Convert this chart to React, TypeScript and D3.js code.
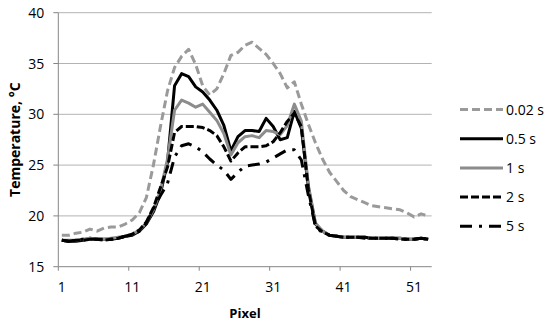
import * as d3 from "d3";

const pixels = d3.range(1, 54);

const s002 = [18.1, 18.1, 18.3, 18.4, 18.7, 18.5, 18.8, 18.9, 18.9, 19.2, 19.6, 20.3, 21.8, 25.0, 28.8, 32.3, 34.6, 35.7, 36.4, 34.9, 32.8, 31.9, 32.5, 34.0, 35.8, 36.1, 36.8, 37.1, 36.5, 35.9, 35.0, 34.0, 32.6, 33.2, 31.0, 29.0, 27.2, 25.6, 24.3, 23.4, 22.5, 21.9, 21.6, 21.3, 21.0, 20.9, 20.8, 20.7, 20.6, 20.3, 19.9, 20.2, 20.0];
const s05 = [17.6, 17.5, 17.5, 17.6, 17.8, 17.7, 17.7, 17.7, 17.8, 18.0, 18.1, 18.5, 19.2, 20.4, 22.2, 25.3, 32.8, 34.0, 33.7, 32.7, 32.2, 31.4, 30.4, 28.9, 26.4, 27.8, 28.4, 28.4, 28.3, 29.6, 28.8, 27.5, 27.7, 30.3, 28.6, 22.8, 19.2, 18.5, 18.1, 18.0, 17.9, 17.9, 17.9, 17.9, 17.8, 17.8, 17.8, 17.8, 17.8, 17.7, 17.7, 17.8, 17.7];
const s1 = [17.6, 17.6, 17.6, 17.7, 17.8, 17.7, 17.7, 17.8, 17.9, 18.0, 18.2, 18.6, 19.3, 20.6, 22.5, 25.6, 30.4, 31.4, 31.1, 30.7, 31.0, 30.2, 29.4, 28.1, 26.0, 27.2, 27.8, 27.9, 27.7, 28.4, 28.3, 28.0, 28.9, 31.0, 29.3, 23.0, 19.3, 18.5, 18.1, 18.0, 17.9, 17.9, 17.9, 17.9, 17.8, 17.8, 17.8, 17.8, 17.8, 17.7, 17.7, 17.8, 17.7];
const s2 = [17.6, 17.5, 17.6, 17.6, 17.7, 17.7, 17.6, 17.7, 17.8, 18.0, 18.2, 18.6, 19.4, 20.8, 22.8, 24.8, 28.2, 28.8, 28.8, 28.8, 28.7, 28.4, 27.9, 26.8, 25.4, 26.2, 26.8, 26.8, 26.8, 26.9, 27.3, 28.2, 29.3, 30.1, 28.8, 22.6, 19.0, 18.4, 18.1, 18.0, 17.9, 17.9, 17.9, 17.8, 17.8, 17.8, 17.8, 17.8, 17.7, 17.7, 17.7, 17.8, 17.7];
const s5 = [17.6, 17.5, 17.6, 17.7, 17.7, 17.7, 17.7, 17.7, 17.8, 18.0, 18.1, 18.5, 19.3, 20.7, 22.0, 23.2, 25.8, 26.9, 27.1, 26.8, 26.3, 25.6, 25.0, 24.5, 23.6, 24.3, 24.9, 25.0, 25.1, 25.3, 25.7, 26.1, 26.5, 26.5, 25.5, 22.0, 19.0, 18.3, 18.1, 18.0, 17.9, 17.9, 17.9, 17.9, 17.8, 17.8, 17.8, 17.8, 17.7, 17.7, 17.7, 17.8, 17.7];

const yTicks = [15, 20, 25, 30, 35, 40];
const xTickLabels = [1, 11, 21, 31, 41, 51];

const series = [
  { name: "0.02 s", values: s002, color: "#9a9a9a", dash: "8,4" },
  { name: "0.5 s", values: s05, color: "#000000", dash: "" },
  { name: "1 s", values: s1, color: "#8c8c8c", dash: "" },
  { name: "2 s", values: s2, color: "#000000", dash: "8,3" },
  { name: "5 s", values: s5, color: "#000000", dash: "12,7,3,7" },
];

const font = "'Open Sans', sans-serif";

export default function App() {
  const margin = { top: 12.7, left: 58.3, right: 118.3, bottom: 57.3 };
  const width = 550;
  const height = 324;
  const innerW = width - margin.left - margin.right;
  const innerH = height - margin.top - margin.bottom;

  const x = d3
    .scaleBand<number>()
    .domain(pixels)
    .range([0, innerW])
    .padding(0);
  const y = d3.scaleLinear().domain([15, 40]).range([innerH, 0]);
  const cx = (p: number) => (x(p) ?? 0) + x.bandwidth() / 2;

  const line = d3
    .line<number>()
    .x((_, i) => cx(pixels[i]))
    .y((d) => y(d));

  return (
    <>
      <style>{"body{margin:0}"}</style>
      <svg width={width} height={height} style={{ display: "block" }}>
        <rect width={width} height={height} fill="#fff" />
        <g transform={`translate(${margin.left},${margin.top})`}>
          {yTicks.map((t) => (
            <g key={t}>
              {t !== 15 && (
                <line x1={0} x2={innerW} y1={y(t)} y2={y(t)} stroke="#b3b3b3" strokeWidth={1} />
              )}
              <line x1={-5} x2={0} y1={y(t)} y2={y(t)} stroke="#868686" strokeWidth={1} />
              <text
                x={-14}
                y={y(t)}
                dy="0.36em"
                textAnchor="end"
                fontFamily={font}
                fontSize={14}
                fill="#000"
              >
                {t}
              </text>
            </g>
          ))}
          <line x1={0} x2={innerW} y1={innerH} y2={innerH} stroke="#868686" />
          <line x1={0} x2={0} y1={0} y2={innerH} stroke="#868686" />
          {xTickLabels.map((t) => (
            <g key={t}>
              <line x1={x(t)} x2={x(t)} y1={innerH} y2={innerH + 4} stroke="#868686" />
              <text
                x={cx(t)}
                y={innerH + 25}
                textAnchor="middle"
                fontFamily={font}
                fontSize={14}
                fill="#000"
              >
                {t}
              </text>
            </g>
          ))}
          {series.map((s) => (
            <path
              key={s.name}
              d={line(s.values) ?? ""}
              fill="none"
              stroke={s.color}
              strokeWidth={3}
              strokeDasharray={s.dash || undefined}
              strokeLinejoin="round"
            />
          ))}
        </g>
        <text
          x={margin.left + innerW / 2}
          y={318}
          textAnchor="middle"
          fontFamily={font}
          fontSize={13}
          fontWeight="bold"
        >
          Pixel
        </text>
        <text
          transform={`translate(20,${margin.top + innerH / 2}) rotate(-90)`}
          textAnchor="middle"
          fontFamily={font}
          fontSize={14}
          fontWeight="bold"
        >
          Temperature, °C
        </text>
        {series.map((s, i) => {
          const ly = 109.5 + i * 29.2;
          return (
            <g key={s.name}>
              <line
                x1={460}
                x2={503}
                y1={ly}
                y2={ly}
                stroke={s.color}
                strokeWidth={3}
                strokeDasharray={s.dash || undefined}
              />
              <text x={506} y={ly} dy="0.36em" fontFamily={font} fontSize={14} fill="#000">
                {s.name}
              </text>
            </g>
          );
        })}
      </svg>
    </>
  );
}
